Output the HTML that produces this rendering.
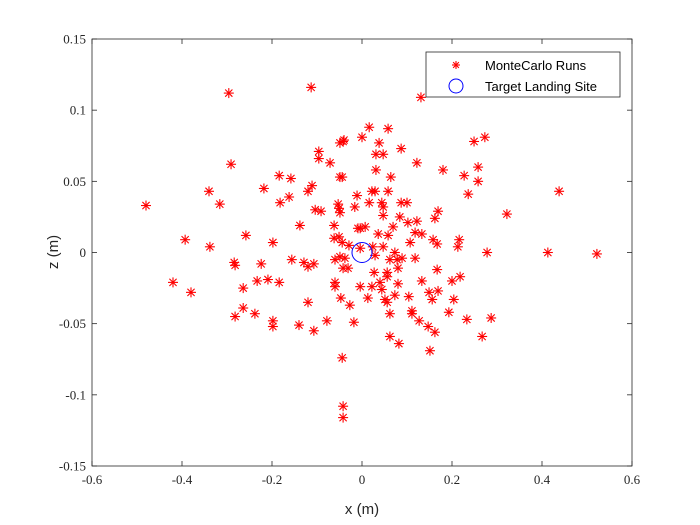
<!DOCTYPE html>
<html><head><meta charset="utf-8"><style>body{margin:0;background:#fff}svg{display:block}</style></head>
<body>
<svg id="chart" width="700" height="525" xmlns="http://www.w3.org/2000/svg">
<g id="axes"></g>
<g id="marks"></g>
</svg>
<script>
const runX=[-0.296,-0.113,-0.042,-0.049,-0.096,-0.096,-0.071,-0.291,-0.049,-0.184,-0.158,-0.111,-0.120,-0.218,-0.340,-0.162,-0.182,-0.316,-0.480,-0.011,-0.053,-0.051,-0.049,-0.016,-0.104,-0.091,-0.138,-0.062,-0.009,-0.393,-0.338,-0.258,-0.198,-0.062,-0.051,-0.044,-0.029,
0.131,0.016,0.058,-0.040,0.000,0.038,0.087,0.031,0.047,0.249,0.273,0.122,0.031,0.064,0.180,0.227,0.258,0.258,0.438,0.236,-0.044,0.022,0.029,0.058,0.016,0.044,0.047,0.047,0.087,0.100,0.169,0.162,0.322,0.084,0.102,0.122,-0.004,0.007,0.069,0.036,0.058,0.118,0.133,0.158,0.167,0.216,0.213,0.107,0.073,0.278,0.413,0.522,
-0.284,-0.282,-0.224,-0.156,-0.129,-0.120,-0.107,-0.060,-0.049,-0.038,-0.042,-0.031,-0.420,-0.380,-0.264,-0.233,-0.209,-0.184,-0.060,-0.060,-0.004,-0.120,-0.047,-0.027,-0.264,-0.282,-0.238,-0.198,-0.198,-0.140,-0.107,-0.078,-0.018,-0.044,-0.042,-0.042,
0.024,0.047,0.029,0.062,0.078,0.089,0.118,0.027,0.056,0.056,0.080,0.167,0.133,0.200,0.218,0.022,0.040,0.044,0.080,0.013,0.051,0.056,0.073,0.104,0.149,0.169,0.156,0.204,0.062,0.111,0.111,0.127,0.147,0.162,0.193,0.233,0.287,0.062,0.082,0.267,0.151,-0.004];
const runZ=[0.112,0.116,0.078,0.077,0.071,0.066,0.063,0.062,0.053,0.054,0.052,0.047,0.043,0.045,0.043,0.039,0.035,0.034,0.033,0.040,0.034,0.031,0.028,0.032,0.030,0.029,0.019,0.019,0.017,0.009,0.004,0.012,0.007,0.010,0.011,0.007,0.005,
0.109,0.088,0.087,0.079,0.081,0.077,0.073,0.069,0.069,0.078,0.081,0.063,0.058,0.053,0.058,0.054,0.060,0.050,0.043,0.041,0.053,0.043,0.043,0.043,0.035,0.035,0.032,0.026,0.035,0.035,0.029,0.024,0.027,0.025,0.021,0.022,0.017,0.018,0.018,0.013,0.012,0.014,0.013,0.009,0.006,0.009,0.004,0.007,0.000,0.000,0.000,-0.001,
-0.007,-0.009,-0.008,-0.005,-0.007,-0.010,-0.008,-0.005,-0.003,-0.004,-0.011,-0.011,-0.021,-0.028,-0.025,-0.020,-0.019,-0.021,-0.021,-0.024,-0.024,-0.035,-0.032,-0.037,-0.039,-0.045,-0.043,-0.048,-0.052,-0.051,-0.055,-0.048,-0.049,-0.074,-0.108,-0.116,
0.004,0.004,-0.002,-0.005,-0.005,-0.004,-0.004,-0.014,-0.014,-0.017,-0.011,-0.012,-0.020,-0.020,-0.017,-0.024,-0.021,-0.026,-0.022,-0.032,-0.033,-0.035,-0.030,-0.031,-0.028,-0.027,-0.033,-0.033,-0.043,-0.041,-0.043,-0.048,-0.052,-0.056,-0.042,-0.047,-0.046,-0.059,-0.064,-0.059,-0.069,0.003];
const targetX=[0], targetZ=[0];
const xTicks=[-0.6,-0.4,-0.2,0,0.2,0.4,0.6];
const xTickLabels=["-0.6","-0.4","-0.2","0","0.2","0.4","0.6"];
const yTicks=[-0.15,-0.1,-0.05,0,0.05,0.1,0.15];
const yTickLabels=["-0.15","-0.1","-0.05","0","0.05","0.1","0.15"];

const L=92,R=632,T=39,B=466;
const sx=v=>L+(v+0.6)/1.2*(R-L);
const sy=v=>B-(v+0.15)/0.3*(B-T);
const NS="http://www.w3.org/2000/svg";
function mk(tag,attrs,parent){const e=document.createElementNS(NS,tag);for(const k in attrs)e.setAttribute(k,attrs[k]);parent.appendChild(e);return e;}
const axes=document.getElementById('axes'), marks=document.getElementById('marks');
const box=mk('rect',{x:L,y:T,width:R-L,height:B-T,fill:'#fff',stroke:'#262626','stroke-width':0.8},axes);


xTicks.forEach((t,i)=>{const x=sx(t);
 mk('line',{x1:x,y1:B,x2:x,y2:B-5,stroke:'#262626','stroke-width':0.8},axes);
 mk('line',{x1:x,y1:T,x2:x,y2:T+5,stroke:'#262626','stroke-width':0.8},axes);
 const tx=mk('text',{x:x,y:B+18,'text-anchor':'middle','font-family':'Liberation Serif, serif','font-size':13,fill:'#262626'},axes);
 tx.textContent=xTickLabels[i];
 
 
});
yTicks.forEach((t,i)=>{const y=sy(t);
 mk('line',{x1:L,y1:y,x2:L+5,y2:y,stroke:'#262626','stroke-width':0.8},axes);
 mk('line',{x1:R,y1:y,x2:R-5,y2:y,stroke:'#262626','stroke-width':0.8},axes);
 const tx=mk('text',{x:L-6,y:y+4.5,'text-anchor':'end','font-family':'Liberation Serif, serif','font-size':13,fill:'#262626'},axes);
 tx.textContent=yTickLabels[i];
 
 
});
const xl=mk('text',{x:362,y:514,'text-anchor':'middle','font-family':'Liberation Sans, sans-serif','font-size':15,fill:'#262626'},axes);
xl.textContent='x (m)';


const yl=mk('text',{x:0,y:0,transform:'translate(58,252) rotate(-90)','text-anchor':'middle','font-family':'Liberation Sans, sans-serif','font-size':15,fill:'#262626'},axes);
yl.textContent='z (m)';



function star(cx,cy,r,parent){const g=mk('g',{stroke:'#f00','stroke-width':1.1},parent);const d=r*0.72;
 mk('line',{x1:cx-r,y1:cy,x2:cx+r,y2:cy},g);mk('line',{x1:cx,y1:cy-r,x2:cx,y2:cy+r},g);
 mk('line',{x1:cx-d,y1:cy-d,x2:cx+d,y2:cy+d},g);mk('line',{x1:cx-d,y1:cy+d,x2:cx+d,y2:cy-d},g);return g;}
runX.forEach((v,i)=>{const g=star(sx(v),sy(runZ[i]),5,marks);
 
 });
targetX.forEach((v,i)=>{const c=mk('circle',{cx:sx(v),cy:sy(targetZ[i]),r:10,fill:'none',stroke:'#00f','stroke-width':1},marks);
 
 });

const lg=mk('g',{},marks);


mk('rect',{x:426,y:52,width:194,height:45,fill:'#fff',stroke:'#262626','stroke-width':0.8},lg);
const e1=star(456,65,4,lg);


const t1=mk('text',{x:485,y:70,'font-family':'Liberation Sans, sans-serif','font-size':13,fill:'#000'},lg);
t1.textContent='MonteCarlo Runs';


mk('circle',{cx:456,cy:86,r:7,fill:'none',stroke:'#00f','stroke-width':1},lg);
const t2=mk('text',{x:485,y:91,'font-family':'Liberation Sans, sans-serif','font-size':13,fill:'#000'},lg);
t2.textContent='Target Landing Site';


</script>
</body></html>
